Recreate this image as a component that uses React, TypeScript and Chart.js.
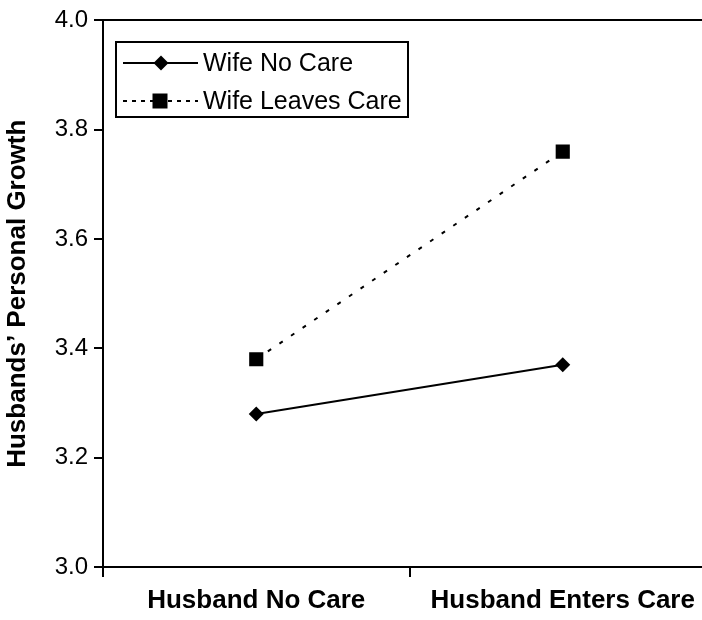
import React, { useEffect, useRef } from "react";
import { Chart, registerables } from "chart.js";

Chart.register(...registerables);

const categories = ["Husband No Care", "Husband Enters Care"];
const seriesNames = ["Wife No Care", "Wife Leaves Care"];
const wifeNoCare = [3.28, 3.37];
const wifeLeavesCare = [3.38, 3.76];
const yTicks = [3.0, 3.2, 3.4, 3.6, 3.8, 4.0];
const yTitle = "Husbands\u2019 Personal Growth";

const FONT = "'Liberation Sans', Arial, Helvetica, sans-serif";
const CANVAS_W = 726;

const legendPlugin = {
  id: "customLegend",
  afterDraw(chart: any) {
    const ctx = chart.ctx;
    const left = 116, top = 42, w = 292, h = 75;
    ctx.save();
    ctx.fillStyle = "#fff";
    ctx.fillRect(left, top, w, h);
    ctx.strokeStyle = "#000";
    ctx.lineWidth = 2;
    ctx.setLineDash([]);
    ctx.strokeRect(left, top, w, h);
    const rows = [63, 101];
    chart.data.datasets.forEach((ds: any, i: number) => {
      const y = rows[i];
      ctx.strokeStyle = "#000";
      ctx.lineWidth = 2;
      ctx.setLineDash(i === 0 ? [] : [4, 5]);
      ctx.beginPath();
      ctx.moveTo(123, y);
      ctx.lineTo(198, y);
      ctx.stroke();
      ctx.setLineDash([]);
      ctx.fillStyle = "#000";
      ctx.beginPath();
      if (i === 0) {
        const r = 7.5;
        ctx.moveTo(161, y - r);
        ctx.lineTo(161 + r, y);
        ctx.lineTo(161, y + r);
        ctx.lineTo(161 - r, y);
        ctx.closePath();
      } else {
        ctx.rect(160 - 7.5, y - 7.5, 15, 15);
      }
      ctx.fill();
      ctx.font = `25px ${FONT}`;
      ctx.textBaseline = "middle";
      ctx.textAlign = "left";
      ctx.fillText(ds.label, 203, y + 1);
    });
    ctx.restore();
  },
};

export default function App() {
  const ref = useRef<HTMLCanvasElement | null>(null);
  useEffect(() => {
    if (!ref.current) return;
    const chart = new Chart(ref.current, {
      type: "line",
      data: {
        labels: categories,
        datasets: [
          {
            label: seriesNames[0],
            data: wifeNoCare,
            borderColor: "#000",
            backgroundColor: "#000",
            borderWidth: 2,
            pointStyle: "rectRot",
            pointRadius: 7.5,
            pointBorderWidth: 0,
            pointBackgroundColor: "#000",
          },
          {
            label: seriesNames[1],
            data: wifeLeavesCare,
            borderColor: "#000",
            backgroundColor: "#000",
            borderWidth: 2,
            borderDash: [4, 10],
            pointStyle: "rect",
            pointRadius: 10,
            pointBorderWidth: 0,
            pointBackgroundColor: "#000",
          },
        ],
      },
      options: {
        animation: false,
        responsive: false,
        maintainAspectRatio: false,
        layout: { padding: { left: 0, right: 0, top: 17, bottom: 0 } },
        plugins: {
          legend: { display: false },
          tooltip: { enabled: false },
        },
        scales: {
          x: {
            type: "category",
            offset: true,
            border: { display: true, color: "#000", width: 2 },
            grid: {
              offset: true,
              drawOnChartArea: false,
              color: "#000",
              tickColor: "#000",
              tickLength: 10,
              lineWidth: 2,
            },
            ticks: {
              color: "#000",
              font: { family: FONT, size: 26, weight: "bold" },
              padding: 8,
              maxRotation: 0,
            },
            afterFit(scale: any) {
              scale.height = 53;
            },
          },
          y: {
            type: "linear",
            min: 3.0,
            max: 4.0,
            afterBuildTicks(scale: any) {
              scale.ticks = yTicks.map((v) => ({ value: v }));
            },
            border: { display: true, color: "#000", width: 2 },
            grid: {
              color: (c: any) => (c.tick && Math.abs(c.tick.value - 4.0) < 1e-9 ? "#000" : "rgba(0,0,0,0)"),
              tickColor: "#000",
              tickLength: 9,
              lineWidth: 2,
            },
            ticks: {
              color: "#000",
              font: { family: FONT, size: 24 },
              padding: 6,
              callback: (v: any) => Number(v).toFixed(1),
            },
            title: {
              display: true,
              text: yTitle,
              color: "#000",
              font: { family: FONT, size: 26, weight: "bold" },
              padding: { top: 2, bottom: 0 },
            },
            afterFit(scale: any) {
              scale.width = 103;
            },
          },
        },
      },
      plugins: [legendPlugin],
    } as any);
    return () => chart.destroy();
  }, []);
  return (
    <div style={{ position: "fixed", left: 0, top: 0, width: 702, height: 620, overflow: "hidden", background: "#fff" }}>
      <canvas ref={ref} width={CANVAS_W} height={620} style={{ width: CANVAS_W, height: 620, display: "block" }} />
    </div>
  );
}
